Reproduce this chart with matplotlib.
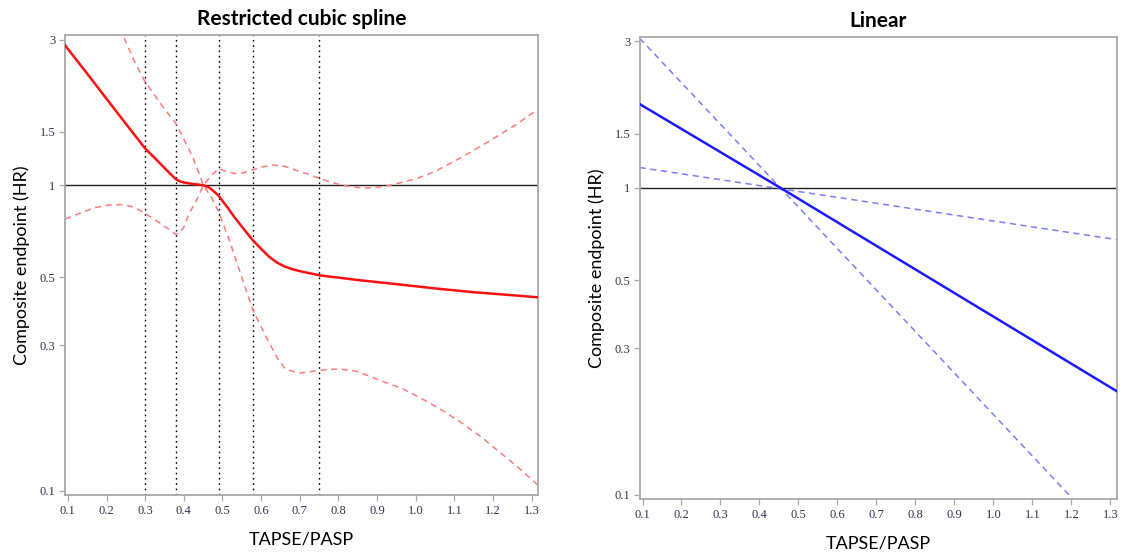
"""Spline vs linear hazard-ratio curves for TAPSE/PASP (two panels)."""
import matplotlib

matplotlib.use("Agg")
import matplotlib.pyplot as plt
from matplotlib.ticker import FixedLocator, NullLocator

# --- restricted cubic spline panel ---
rcs_x = [0.093, 0.15, 0.20, 0.25, 0.30, 0.33, 0.35, 0.365, 0.38, 0.39, 0.40,
         0.42, 0.44, 0.451, 0.465, 0.478, 0.49, 0.50, 0.515, 0.53, 0.555,
         0.579, 0.60, 0.62, 0.64, 0.66, 0.68, 0.70, 0.75, 0.85, 0.95, 1.05,
         1.15, 1.25, 1.318]
rcs_hr = [2.87, 2.32, 1.92, 1.59, 1.32, 1.21, 1.14, 1.09, 1.046, 1.03, 1.022,
          1.012, 1.005, 1.0, 0.985, 0.955, 0.925, 0.89, 0.84, 0.79, 0.72,
          0.66, 0.62, 0.585, 0.56, 0.543, 0.532, 0.524, 0.508, 0.49, 0.475,
          0.46, 0.447, 0.437, 0.43]

rcs_up_x = [0.22, 0.243, 0.27, 0.30, 0.34, 0.38, 0.423, 0.451, 0.469, 0.49,
            0.51, 0.534, 0.555, 0.579, 0.605, 0.631, 0.66, 0.691, 0.72, 0.75,
            0.78, 0.811, 0.845, 0.875, 0.922, 0.96, 1.0, 1.05, 1.1, 1.15, 1.2,
            1.26, 1.318]
rcs_up_hr = [3.5, 3.09, 2.58, 2.18, 1.85, 1.59, 1.24, 1.0, 1.07, 1.134,
             1.11, 1.092, 1.10, 1.124, 1.15, 1.165, 1.155, 1.12, 1.09, 1.054,
             1.025, 1.0, 0.985, 0.98, 0.993, 1.02, 1.05, 1.11, 1.2, 1.30, 1.42,
             1.58, 1.78]

rcs_lo_x = [0.093, 0.13, 0.17, 0.205, 0.238, 0.27, 0.30, 0.34, 0.37, 0.38,
            0.39, 0.40, 0.414, 0.432, 0.451, 0.47, 0.49, 0.52, 0.55, 0.579,
            0.60, 0.617, 0.64, 0.663, 0.70, 0.75, 0.80, 0.85, 0.90, 0.97, 1.03,
            1.08, 1.125, 1.17, 1.217, 1.27, 1.318]
rcs_lo_hr = [0.776, 0.81, 0.845, 0.862, 0.865, 0.85, 0.81, 0.75, 0.705, 0.69,
             0.70, 0.73, 0.81, 0.89, 1.0, 0.92, 0.82, 0.65, 0.50, 0.39,
             0.345, 0.312, 0.275, 0.25, 0.243, 0.248, 0.251, 0.246, 0.232,
             0.215, 0.196, 0.18, 0.165, 0.15, 0.134, 0.118, 0.104]

knots = [0.30, 0.38, 0.49, 0.58, 0.75]

# --- linear panel ---
lin_x = [0.093, 0.453, 1.318]
lin_hr = [1.87, 1.0, 0.217]
lin_up_hr = [3.06, 1.0, 0.068]
lin_lo_x = [0.093, 0.435, 1.318]
lin_lo_hr = [1.163, 1.0, 0.677]

x_ticks = [0.1, 0.2, 0.3, 0.4, 0.5, 0.6, 0.7, 0.8, 0.9, 1.0, 1.1, 1.2, 1.3]
x_labels = ["0.1", "0.2", "0.3", "0.4", "0.5", "0.6", "0.7", "0.8", "0.9",
            "1.0", "1.1", "1.2", "1.3"]
y_ticks = [0.1, 0.3, 0.5, 1, 1.5, 3]
y_labels = ["0.1", "0.3", "0.5", "1", "1.5", "3"]

FRAME = "#a8a8a8"
TICKTXT = "#2f3550"
LABEL_FONT = "Lato"


def style_axes(ax, title):
    ax.set_yscale("log")
    ax.set_xlim(0.0935, 1.317)
    ax.set_ylim(0.097, 3.1)
    ax.yaxis.set_major_locator(FixedLocator(y_ticks))
    ax.yaxis.set_minor_locator(NullLocator())
    ax.set_yticklabels(y_labels)
    ax.set_xticks(x_ticks)
    ax.set_xticklabels(x_labels)
    for sp in ax.spines.values():
        sp.set_color(FRAME)
        sp.set_linewidth(1.3)
    ax.tick_params(direction="out", length=4, width=0.9, color=FRAME,
                   labelcolor=TICKTXT, labelsize=9, pad=3)
    for lab in ax.get_xticklabels() + ax.get_yticklabels():
        lab.set_family("Liberation Serif")
    ax.axhline(1.0, color="#222222", lw=1.0, zorder=2)
    ax.set_xlabel("TAPSE/PASP", family=LABEL_FONT, fontsize=13, labelpad=11)
    ax.set_ylabel("Composite endpoint (HR)", family=LABEL_FONT, fontsize=13,
                  labelpad=7)
    ax.set_title(title, family=LABEL_FONT, fontsize=15, fontweight="bold",
                 pad=7)


def main():
    fig = plt.figure(figsize=(11.21, 5.54), dpi=100)
    ax1 = fig.add_axes([0.0583, 0.1065, 0.4218, 0.830])
    ax2 = fig.add_axes([0.5709, 0.0993, 0.4255, 0.8345])

    style_axes(ax1, "Restricted cubic spline")
    for k in knots:
        ax1.axvline(k, color="black", lw=1.0, ls=(0, (1.2, 2.6)), zorder=1)
    ax1.plot(rcs_up_x, rcs_up_hr, color="#ff7b7b", lw=1.1, ls=(0, (4, 3)))
    ax1.plot(rcs_lo_x, rcs_lo_hr, color="#ff7b7b", lw=1.1, ls=(0, (4, 3)))
    ax1.plot(rcs_x, rcs_hr, color="#ff1010", lw=1.8, zorder=3)

    style_axes(ax2, "Linear")
    ax2.plot(lin_x, lin_up_hr, color="#7b7bff", lw=1.1, ls=(0, (4, 3)))
    ax2.plot(lin_lo_x, lin_lo_hr, color="#7b7bff", lw=1.1, ls=(0, (4, 3)))
    ax2.plot(lin_x, lin_hr, color="#1a1aff", lw=1.8, zorder=3)

    fig.savefig("out.png", dpi=100)
    plt.close(fig)


if __name__ == "__main__":
    main()
